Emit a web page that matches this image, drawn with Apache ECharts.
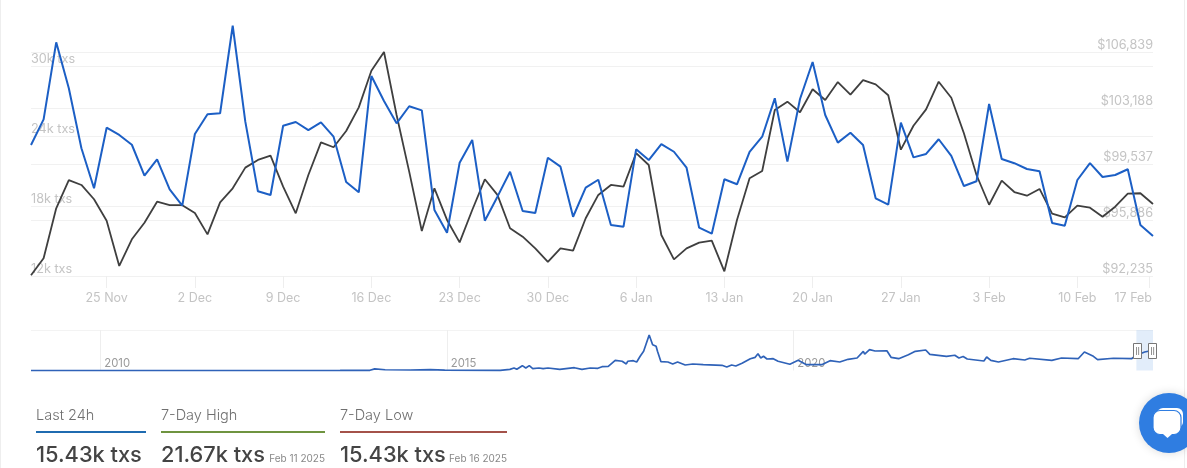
<!DOCTYPE html>
<html>
<head>
    <meta charset="utf-8">
    <title>Bitcoin transactions</title>
    <script type="text/javascript" src="https://cdn.jsdelivr.net/npm/echarts@6/dist/echarts.min.js"></script>
    <style>
        html, body { margin: 0; padding: 0; background: #fff; overflow: hidden; }
        #main { width: 1187px; height: 468px; }
    </style>
</head>
<body>
	<div id="main"></div>
	<script type="text/javascript">
	// daily values, 19 Nov 2024 to 16 Feb 2025
	var txs = [
		23230, 25430, 32030, 28090, 22950, 19520, 24710, 24090, 23250, 20600,
		22000, 19430, 18030, 24170, 25860, 25950, 33450, 25230, 19260, 18940,
		24880, 25200, 24510, 25170, 23940, 20060, 19170, 29140, 27000, 25090,
		26550, 26200, 17660, 15710, 21710, 23660, 16740, 18800, 20940, 17570,
		17400, 22140, 21370, 17080, 19570, 20250, 16370, 16230, 22860, 21940,
		23310, 22650, 21280, 16140, 15630, 20290, 19860, 22630, 23940, 27230,
		21800, 27170, 30340, 25800, 23430, 24280, 23230, 18660, 18110, 25140,
		22170, 22460, 23720, 22290, 19710, 20120, 26740, 22030, 21670, 21170,
		20970, 16540, 16310, 20230, 21670, 20490, 20660, 21150, 16370, 15430
	];
	var price = [
		92280, 93390, 96650, 98490, 98170, 97240, 95840, 92890, 94630, 95710,
		97080, 96860, 96850, 96340, 94950, 97040, 97950, 99300, 99800, 100080,
		98060, 96320, 98820, 100950, 100630, 101690, 103230, 105620, 106840, 102730,
		99040, 95170, 97950, 95890, 94430, 96540, 98540, 97520, 95350, 94800,
		94040, 93150, 94040, 93890, 96000, 97520, 98170, 98060, 100240, 99470,
		94910, 93320, 94040, 94410, 94540, 92540, 95890, 98610, 99080, 103060,
		103600, 102910, 104410, 103710, 104880, 104060, 105000, 104730, 104020, 100470,
		102030, 103100, 104900, 103860, 101540, 98820, 96880, 98450, 97710, 97470,
		97910, 96300, 96060, 96820, 96690, 96100, 96750, 97600, 97630, 96930
	];
	var tickDays = [6, 13, 20, 27, 34, 41, 48, 55, 62, 69, 76, 83, 88.7];
	var tickLabels = ['25 Nov', '2 Dec', '9 Dec', '16 Dec', '23 Dec', '30 Dec', '6 Jan', '13 Jan', '20 Jan', '27 Jan', '3 Feb', '10 Feb', '17 Feb'];
	var txsTicks = [12000, 18000, 24000, 30000];
	var priceTicks = [92235, 95886, 99537, 103188, 106839];

	// overview strip, whole history (thousand txs a day)
	var navYears = [
		2009.00, 2011.44, 2013.46, 2013.89, 2013.96, 2014.11, 2014.47, 2014.76, 2014.97, 2015.77,
		2015.91, 2015.97, 2016.01, 2016.09, 2016.14, 2016.19, 2016.24, 2016.33, 2016.39, 2016.46,
		2016.63, 2016.84, 2016.95, 2017.07, 2017.18, 2017.24, 2017.33, 2017.43, 2017.53, 2017.59,
		2017.61, 2017.69, 2017.74, 2017.79, 2017.84, 2017.92, 2017.97, 2018.02, 2018.04, 2018.09,
		2018.19, 2018.26, 2018.33, 2018.44, 2018.55, 2018.70, 2018.97, 2019.04, 2019.11, 2019.17,
		2019.26, 2019.38, 2019.45, 2019.49, 2019.53, 2019.57, 2019.62, 2019.71, 2019.78, 2019.95,
		2020.07, 2020.19, 2020.41, 2020.53, 2020.67, 2020.79, 2020.92, 2021.01, 2021.03, 2021.10,
		2021.18, 2021.35, 2021.41, 2021.52, 2021.66, 2021.76, 2021.91, 2021.97, 2022.21, 2022.33,
		2022.39, 2022.45, 2022.51, 2022.75, 2022.79, 2022.85, 2022.96, 2023.17, 2023.34, 2023.41,
		2023.73, 2023.87, 2024.11, 2024.20, 2024.33, 2024.39, 2024.62, 2024.88, 2024.95, 2025.07,
		2025.19
	];
	var navValues = [
		0, 0, 1, 3, 23, 10, 7, 11, 4, 3,
		16, 34, 16, 66, 34, 66, 25, 34, 25, 34,
		16, 38, 16, 34, 30, 52, 57, 139, 126, 89,
		126, 134, 116, 194, 262, 485, 352, 331, 262, 120,
		116, 89, 116, 75, 89, 79, 71, 48, 75, 61,
		98, 161, 180, 229, 171, 194, 157, 161, 126, 85,
		139, 79, 79, 134, 116, 153, 171, 262, 225, 284,
		266, 270, 180, 161, 216, 262, 280, 221, 194, 208,
		171, 191, 157, 130, 184, 139, 116, 161, 143, 167,
		139, 171, 161, 253, 194, 148, 167, 161, 208, 253,
		276
	];
	var navTicks = [2010, 2015, 2020];
	var navRange = [2024.95, 2025.19];

	var stats = [
		{title: 'Last 24h', value: '15.43k txs', date: '', x: 36, w: 110, color: '#1f6bb0'},
		{title: '7-Day High', value: '21.67k txs', date: 'Feb 11 2025', x: 161, w: 164, color: '#6f9440'},
		{title: '7-Day Low', value: '15.43k txs', date: 'Feb 16 2025', x: 340, w: 167, color: '#a4524a'}
	];

	var font = 'Inter';
	var gridColor = '#f1f1f1';
	var labelColor = '#c4c4c4';

	function pairs(xs, ys) {
		return ys.map(function(v, k) { return [xs ? xs[k] : k, v]; });
	}

	var graphics = [
		{type: 'rect', shape: {x: 0, y: 0, width: 1, height: 468}, style: {fill: '#eeeeee'}, silent: true},
		{type: 'rect', shape: {x: 1184, y: 0, width: 1, height: 468}, style: {fill: '#eeeeee'}, silent: true}
	];

	stats.forEach(function(s) {
		graphics.push({type: 'text', style: {text: s.title, x: s.x, y: 416, font: '300 14.5px ' + font, fill: '#707070', verticalAlign: 'middle'}});
		graphics.push({type: 'rect', shape: {x: s.x, y: 431, width: s.w, height: 2}, style: {fill: s.color}});
		graphics.push({type: 'text', style: {text: s.value, x: s.x, y: 455, font: '500 21.8px ' + font, fill: '#444444', verticalAlign: 'middle'}});
		if (s.date) {
			graphics.push({type: 'text', style: {text: s.date, x: s.x + s.w, y: 459, font: '400 10px ' + font, fill: '#888888', align: 'right', verticalAlign: 'middle'}});
		}
	});

	// range handles on the overview strip
	[1133.5, 1148.5].forEach(function(x) {
		graphics.push({type: 'rect', z: 20, shape: {x: x, y: 343.5, width: 8, height: 15}, style: {fill: '#ffffff', stroke: '#777777', lineWidth: 1}});
		graphics.push({type: 'rect', z: 21, shape: {x: x + 2.5, y: 347, width: 0.8, height: 8}, style: {fill: '#777777'}});
		graphics.push({type: 'rect', z: 21, shape: {x: x + 4.8, y: 347, width: 0.8, height: 8}, style: {fill: '#777777'}});
	});

	// chat button
	graphics.push({type: 'circle', z: 30, shape: {cx: 1169, cy: 423, r: 30}, style: {fill: '#2f7de1', shadowBlur: 10, shadowColor: 'rgba(0,0,0,0.15)'}});
	graphics.push({type: 'rect', z: 31, shape: {x: 1157, y: 408, width: 26, height: 20, r: 6}, style: {fill: '#ffffff'}});
	graphics.push({type: 'rect', z: 32, shape: {x: 1153, y: 410.5, width: 28, height: 24, r: 7}, style: {fill: '#ffffff', stroke: '#2f7de1', lineWidth: 1.2}});
	graphics.push({type: 'polygon', z: 33, shape: {points: [[1163, 434], [1172, 434], [1167.5, 438]]}, style: {fill: '#ffffff'}});

	var option = {
		animation: false,
		backgroundColor: '#ffffff',
		textStyle: {fontFamily: font},
		grid: [
			{left: 31, right: 34, top: 52, height: 224},
			{left: 31, right: 34, top: 330, height: 40.5}
		],
		xAxis: [
			{
				type: 'value',
				gridIndex: 0,
				min: 0,
				max: 89,
				axisLine: {show: false},
				splitLine: {show: false},
				axisTick: {show: true, length: 12, customValues: tickDays, lineStyle: {color: '#eeeeee'}},
				axisLabel: {
					customValues: tickDays,
					margin: 16,
					fontSize: 12.5,
					fontFamily: font,
					color: labelColor,
					rich: {
						// last label sits left of its tick
						last: {padding: [0, 32, 0, 0], fontSize: 12.5, fontFamily: font, color: labelColor}
					},
					formatter: function(v) {
						var label = tickLabels[tickDays.indexOf(v)];
						return v === 88.7 ? '{last|' + label + '}' : label;
					}
				}
			},
			{
				type: 'value',
				gridIndex: 1,
				min: 2009,
				max: 2025.19,
				axisLine: {show: false},
				axisTick: {show: false, customValues: navTicks},
				splitLine: {show: true, lineStyle: {color: '#eeeeee'}},
				axisLabel: {
					customValues: navTicks,
					inside: true,
					margin: 1,
					fontSize: 11.3,
					fontFamily: font,
					color: '#9a9a9a',
					align: 'left',
					padding: [0, 0, 0, 4],
					formatter: function(v) { return String(v); }
				}
			}
		],
		yAxis: [
			{
				type: 'value',
				gridIndex: 0,
				min: 12000,
				max: 31200,
				axisLine: {show: false},
				axisTick: {show: false, customValues: txsTicks},
				splitLine: {show: true, lineStyle: {color: gridColor}},
				axisLabel: {
					customValues: txsTicks,
					inside: true,
					margin: 0,
					fontSize: 12.7,
					fontFamily: font,
					color: labelColor,
					verticalAlign: 'bottom',
					padding: [0, 0, 0, 0],
					formatter: function(v) { return (v / 1000) + 'k txs'; }
				}
			},
			{
				type: 'value',
				gridIndex: 0,
				position: 'right',
				min: 92235,
				max: 106839,
				axisLine: {show: false},
				axisTick: {show: false, customValues: priceTicks},
				splitLine: {show: true, lineStyle: {color: gridColor}},
				axisLabel: {
					customValues: priceTicks,
					inside: true,
					margin: 0,
					fontSize: 12.7,
					fontFamily: font,
					color: labelColor,
					verticalAlign: 'bottom',
					padding: [0, 0, 0, 0],
					formatter: function(v) { return '$' + v.toLocaleString('en-US'); }
				}
			},
			{
				type: 'value',
				gridIndex: 1,
				min: 0,
				max: 553,
				axisLine: {show: false},
				axisTick: {show: false, customValues: [553]},
				axisLabel: {show: false},
				splitLine: {show: true, lineStyle: {color: '#f3f3f3'}}
			}
		],
		series: [
			{
				name: 'Price',
				type: 'line',
				xAxisIndex: 0,
				yAxisIndex: 1,
				data: pairs(null, price),
				showSymbol: false,
				clip: false,
				lineStyle: {color: '#3f3f3f', width: 1.8}
			},
			{
				name: 'Transactions',
				type: 'line',
				xAxisIndex: 0,
				yAxisIndex: 0,
				data: pairs(null, txs),
				showSymbol: false,
				clip: false,
				lineStyle: {color: '#1c5fc5', width: 2}
			},
			{
				name: 'History',
				type: 'line',
				xAxisIndex: 1,
				yAxisIndex: 2,
				data: pairs(navYears, navValues),
				showSymbol: false,
				clip: false,
				lineStyle: {color: '#2f62b8', width: 1.7},
				markArea: {
					silent: true,
					itemStyle: {color: 'rgba(190,215,245,0.45)'},
					data: [[{xAxis: navRange[0]}, {xAxis: navRange[1]}]]
				}
			}
		],
		graphic: graphics
	};

	var myChart = echarts.init(document.getElementById('main'));
	myChart.setOption(option);
	</script>
</body>
</html>
